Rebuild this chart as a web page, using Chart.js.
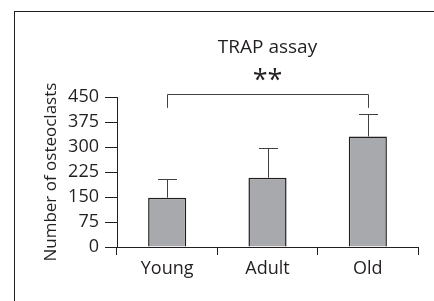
<!DOCTYPE html>
<html>
<head>
<meta charset="utf-8">
<style>
  html, body { margin: 0; padding: 0; background: #fff; overflow: hidden; }
  #wrap { position: relative; width: 434px; height: 301px; }
  #frame { position: absolute; left: 14px; top: 11px; width: 500px; height: 400px; border: 1px solid #231f20; box-sizing: border-box; }
  canvas { position: absolute; left: 0; top: 0; }
</style>
<script src="https://cdn.jsdelivr.net/npm/chart.js@4"></script>
</head>
<body>
<div id="wrap">
  <div id="frame"></div>
  <canvas id="trapChart" width="434" height="301"></canvas>
</div>
<script>
// 데이터
const categories = ['Young', 'Adult', 'Old'];
const meanValues = [148, 208, 332];
const errorValues = [57, 89, 68];
const yTicks = [0, 75, 150, 225, 300, 375, 450];
const bracketFrom = 0, bracketTo = 2;
const bracketTop = 461, bracketDrop = 418;

const INK = '#231f20';
const FONT = "'Open Sans', sans-serif";

// 에러바 + 유의성 괄호
const extrasPlugin = {
    id: 'extras',
    afterDatasetsDraw(chart) {
        const ctx = chart.ctx;
        const y = chart.scales.y;
        const bars = chart.getDatasetMeta(0).data;
        ctx.save();
        ctx.lineWidth = 1;
        ctx.strokeStyle = '#414042';
        bars.forEach((bar, i) => {
            const x = Math.round(bar.x) + 0.5;
            const top = Math.round(y.getPixelForValue(meanValues[i] + errorValues[i])) + 0.5;
            ctx.beginPath();
            ctx.moveTo(x, bar.y);
            ctx.lineTo(x, top);
            ctx.moveTo(x - 9.5, top);
            ctx.lineTo(x + 9.5, top);
            ctx.stroke();
        });
        const x1 = Math.round(bars[bracketFrom].x) + 0.5;
        const x2 = Math.round(bars[bracketTo].x) + 0.5;
        const yt = Math.round(y.getPixelForValue(bracketTop)) + 0.5;
        const yd = y.getPixelForValue(bracketDrop);
        ctx.beginPath();
        ctx.moveTo(x1, yd);
        ctx.lineTo(x1, yt);
        ctx.lineTo(x2, yt);
        ctx.lineTo(x2, yd);
        ctx.stroke();
        ctx.restore();
    }
};

new Chart(document.getElementById('trapChart').getContext('2d'), {
    type: 'bar',
    data: {
        labels: categories,
        datasets: [{
            data: meanValues,
            backgroundColor: '#a7a9ac',
            borderColor: INK,
            borderWidth: 1.5,
            categoryPercentage: 1.0,
            barPercentage: 0.38
        }]
    },
    options: {
        responsive: false,
        animation: false,
        layout: { padding: { left: 35, right: 16, top: 0, bottom: 0 } },
        plugins: {
            legend: { display: false },
            tooltip: { enabled: false },
            title: {
                display: true,
                text: 'TRAP assay',
                fullSize: false,
                color: INK,
                font: { family: FONT, size: 19, weight: 'normal' },
                padding: { top: 36, bottom: 6 }
            },
            subtitle: {
                display: true,
                text: '**',
                fullSize: false,
                color: INK,
                font: { family: FONT, size: 27, weight: 'normal' },
                padding: { top: 0, bottom: 0 }
            }
        },
        scales: {
            x: {
                grid: { offset: true, drawOnChartArea: false, drawTicks: true, tickLength: 8, color: INK, lineWidth: 1 },
                border: { display: true, color: INK, width: 1 },
                ticks: { color: INK, font: { family: FONT, size: 18 }, padding: 3 },
                afterFit(scale) { scale.height = 54; }
            },
            y: {
                min: 0,
                max: 450,
                afterBuildTicks(scale) { scale.ticks = yTicks.map(v => ({ value: v })); },
                grid: { drawOnChartArea: false, drawTicks: true, tickLength: 12, color: INK, lineWidth: 1 },
                border: { display: true, color: INK, width: 1 },
                ticks: { color: INK, font: { family: FONT, size: 18 }, padding: 6 },
                title: {
                    display: true,
                    text: 'Number of osteoclasts',
                    color: INK,
                    font: { family: FONT, size: 17 },
                    padding: { top: 6, bottom: 0 }
                },
                afterFit(scale) { scale.width = 82; }
            }
        }
    },
    plugins: [extrasPlugin]
});
</script>
</body>
</html>
